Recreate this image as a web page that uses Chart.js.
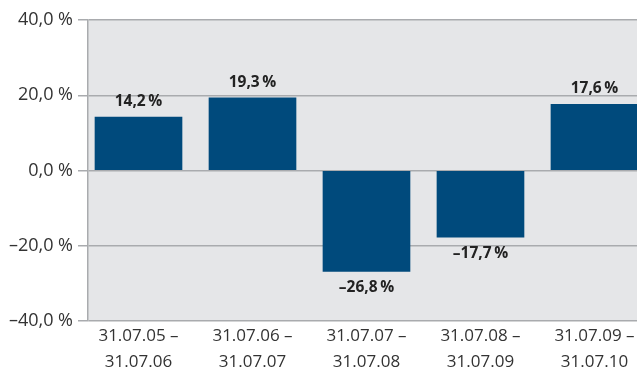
<!DOCTYPE html>
<html>
<head>
<meta charset="utf-8">
<script src="https://cdn.jsdelivr.net/npm/chart.js@4"></script>
<style>
  html, body { margin: 0; padding: 0; background: #ffffff; }
  #wrap { width: 637px; height: 372px; position: relative; }
</style>
</head>
<body>
<div id="wrap"><canvas id="returnsChart"></canvas></div>
<script>
// Zeiträume (zweizeilig) und Wertentwicklung in %
const periods = [
    ['31.07.05 –', '31.07.06'],
    ['31.07.06 –', '31.07.07'],
    ['31.07.07 –', '31.07.08'],
    ['31.07.08 –', '31.07.09'],
    ['31.07.09 –', '31.07.10']
];
const returns = [14.2, 19.3, -26.8, -17.7, 17.6];
const yTicks = [-40, -20, 0, 20, 40];

const gridColor = '#a9abae';
const barColor = '#004a7c';
const textColor = '#333333';

// Zahl im deutschen Format, Minus als Gedankenstrich
function fmt(v, sep) {
    const s = Math.abs(v).toFixed(1).replace('.', ',');
    return (v < 0 ? '–' : '') + s + sep + '%';
}

// grauer Hintergrund der Zeichenfläche
const plotBackground = {
    id: 'plotBackground',
    beforeDraw(chart) {
        const { ctx, chartArea: a } = chart;
        ctx.save();
        ctx.fillStyle = '#e5e6e8';
        ctx.fillRect(a.left, a.top, a.right - a.left, a.bottom - a.top);
        ctx.restore();
    }
};

// Wertbeschriftung über bzw. unter den Balken
const valueLabels = {
    id: 'valueLabels',
    afterDatasetsDraw(chart) {
        const ctx = chart.ctx;
        const meta = chart.getDatasetMeta(0);
        ctx.save();
        ctx.font = 'bold 15.5px "Open Sans"';
        ctx.fillStyle = '#222222';
        ctx.textAlign = 'center';
        ctx.textBaseline = 'middle';
        meta.data.forEach((bar, i) => {
            const v = returns[i];
            const y = v >= 0 ? bar.y - 15.5 : bar.y + 16.5;
            ctx.fillText(fmt(v, '\u2009'), bar.x, y);
        });
        ctx.restore();
    }
};

const ctx = document.getElementById('returnsChart').getContext('2d');

new Chart(ctx, {
    type: 'bar',
    data: {
        datasets: [{
            data: returns.map((v, i) => ({ x: i, y: v })),
            backgroundColor: barColor,
            barThickness: 87,
            borderWidth: 0
        }]
    },
    options: {
        responsive: true,
        maintainAspectRatio: false,
        animation: false,
        layout: { padding: { top: 20, left: 0, right: 0, bottom: 0 } },
        plugins: {
            legend: { display: false },
            tooltip: { enabled: false }
        },
        scales: {
            x: {
                type: 'linear',
                offset: false,
                min: -0.443,
                max: 4.373,
                afterBuildTicks(scale) {
                    scale.ticks = periods.map((p, i) => ({ value: i }));
                },
                afterFit(scale) {
                    scale.height = 51;
                    scale.paddingLeft = 0;
                    scale.paddingRight = 0;
                },
                grid: { display: false, drawTicks: false, offset: false },
                border: { display: false },
                ticks: {
                    autoSkip: false,
                    maxRotation: 0,
                    padding: 2,
                    color: textColor,
                    font: { family: '"Open Sans"', size: 17, lineHeight: '26px' },
                    callback: (value) => periods[value]
                }
            },
            y: {
                min: -40,
                max: 40,
                afterBuildTicks(scale) {
                    scale.ticks = yTicks.map(v => ({ value: v }));
                },
                afterFit(scale) {
                    scale.width = 88;
                },
                grid: {
                    color: gridColor,
                    lineWidth: 1.5,
                    tickLength: 10,
                    drawTicks: true
                },
                border: { display: true, color: gridColor, width: 1.5 },
                ticks: {
                    padding: 5,
                    color: textColor,
                    font: { family: '"Open Sans"', size: 18 },
                    callback: (value) => fmt(value, ' ')
                }
            }
        }
    },
    plugins: [plotBackground, valueLabels]
});
</script>
</body>
</html>
